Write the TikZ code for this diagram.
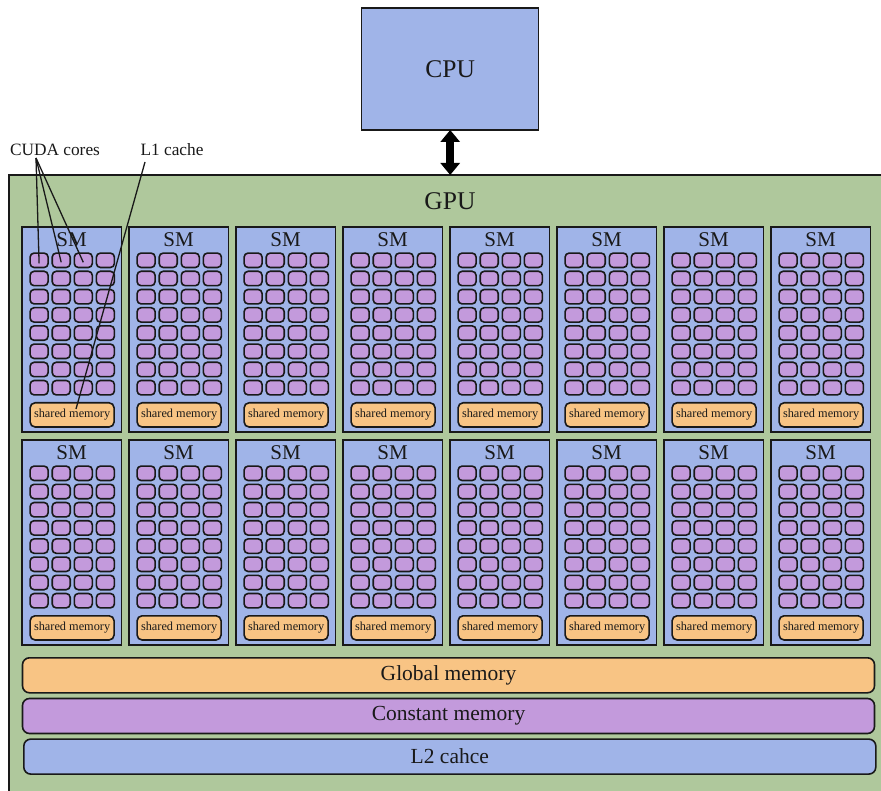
\documentclass[tikz,border=0pt]{standalone}
\usepackage{fontspec}
\setmainfont{Liberation Serif}
\usetikzlibrary{arrows.meta}
\definecolor{cblue}{RGB}{160,180,232}
\definecolor{cgreen}{RGB}{175,200,156}
\definecolor{cpurple}{RGB}{195,154,220}
\definecolor{corange}{RGB}{248,196,132}
\definecolor{cline}{RGB}{25,25,25}
\tikzset{
  bigbox/.style={draw=cline, line width=1.5pt, inner sep=0pt, outer sep=0pt},
  smbox/.style={draw=cline, fill=cblue, line width=1.6pt, inner sep=0pt, minimum width=99.5pt, minimum height=205.4pt, anchor=north west},
  smlabel/.style={inner sep=0pt, font=\fontsize{21}{24}\selectfont, text=cline},
  corebox/.style={draw=cline, fill=cpurple, line width=1.6pt, rounded corners=4pt, inner sep=0pt, minimum width=18pt, minimum height=14.4pt, anchor=north west},
  shmbox/.style={draw=cline, fill=corange, line width=1.6pt, rounded corners=5pt, inner sep=0pt, minimum width=84pt, minimum height=24.2pt, anchor=north west, font=\fontsize{12.3}{14}\selectfont, text=cline},
  barbox/.style={draw=cline, line width=1.6pt, rounded corners=7pt, inner sep=0pt, minimum width=852pt, minimum height=35pt, anchor=north west, font=\fontsize{21.5}{24}\selectfont, text=cline},
  callout/.style={inner sep=0pt, font=\fontsize{17.3}{20}\selectfont, text=cline},
  pointer/.style={draw=cline, line width=1.3pt},
  bigarrow/.style={draw=black, line width=8pt, {Triangle[width=19pt,length=12pt]}-{Triangle[width=19pt,length=12pt]}}
}
\begin{document}
\begin{tikzpicture}[x=1pt,y=-1pt]
\useasboundingbox (0,0) rectangle (881,791);
% CPU
\node[bigbox, fill=cblue, anchor=north west, minimum width=177pt, minimum height=122pt,
      font=\fontsize{25.5}{30}\selectfont, text=cline] (cpu) at (361.7,8) {CPU};
% GPU (extends past right and bottom page edges)
\node[bigbox, fill=cgreen, anchor=north west, minimum width=900pt, minimum height=640pt] (gpu) at (9,175) {};
\node[inner sep=0pt, font=\fontsize{25.5}{30}\selectfont, text=cline] (gputext) at (450,201) {GPU};
% arrow
\draw[bigarrow] (cpu.south) -- (cpu.south |- gpu.north);
% SMs
\foreach \r/\ty in {1/226,2/439}{
  \foreach \c in {1,...,8}{
    \pgfmathsetmacro{\sx}{21+107*(\c-1)}
    \node[smbox] (sm-\r-\c) at (\sx,\ty) {};
    \node[smlabel] (smt-\r-\c) at ({\sx+50.5},{\ty+14}) {SM};
    \foreach \i in {1,...,8}{
      \foreach \j in {1,...,4}{
        \node[corebox] (core-\r-\c-\i-\j) at ({\sx+8.3+22.1*(\j-1)},{\ty+26.3+18.2*(\i-1)}) {};
      }
    }
    \node[shmbox] (shm-\r-\c) at ({\sx+8.3},{\ty+176}) {shared memory};
  }
}
% memory bars
\node[barbox, fill=corange] (global) at (21.7,657) {\raisebox{-1.5pt}{Global memory}};
\node[barbox, fill=cpurple] (const) at (21.7,697.7) {\raisebox{-1.5pt}{Constant memory}};
\node[barbox, fill=cblue] (l2) at (23,738.3) {\raisebox{-1pt}{L2 cahce}};
% callouts
\node[callout] (cuda) at (55,150) {CUDA cores};
\node[callout] (l1) at (172,150) {L1 cache};
\coordinate (cudatip) at (36,158);
\coordinate (l1tip) at (145,162);
\coordinate (l1end) at (76,409);
\draw[pointer] (cudatip) -- ([yshift=-3pt]core-1-1-1-1.center);
\draw[pointer] (cudatip) -- ([yshift=-2pt]core-1-1-1-2.center);
\draw[pointer] (cudatip) -- ([yshift=-2pt]core-1-1-1-3.center);
\draw[pointer] (l1tip) -- (l1end);
\end{tikzpicture}
\end{document}
